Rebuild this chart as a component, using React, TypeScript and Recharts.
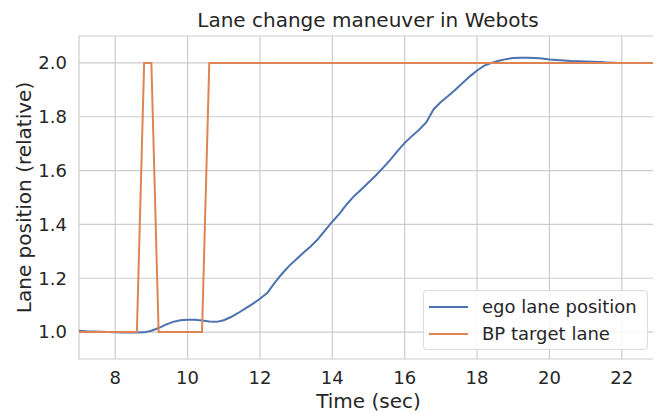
import { LineChart, Line, XAxis, YAxis, CartesianGrid, ReferenceArea, Customized } from 'recharts';

// ego lane position, sampled every 0.2 s from 7.0 to 23.0
const egoTime = [
  7.0, 7.2, 7.4, 7.6, 7.8, 8.0, 8.2, 8.4, 8.6, 8.8, 9.0, 9.2, 9.4, 9.6, 9.8, 10.0, 10.2, 10.4, 10.6, 10.8,
  11.0, 11.2, 11.4, 11.6, 11.8, 12.0, 12.2, 12.4, 12.6, 12.8, 13.0, 13.2, 13.4, 13.6, 13.8, 14.0, 14.2, 14.4, 14.6, 14.8,
  15.0, 15.2, 15.4, 15.6, 15.8, 16.0, 16.2, 16.4, 16.6, 16.8, 17.0, 17.2, 17.4, 17.6, 17.8, 18.0, 18.2, 18.4, 18.6, 18.8,
  19.0, 19.2, 19.4, 19.6, 19.8, 20.0, 20.2, 20.4, 20.6, 20.8, 21.0, 21.2, 21.4, 21.6, 21.8, 22.0, 22.2, 22.4, 22.6, 22.8, 23.0,
];
const egoLane = [
  1.005, 1.003, 1.002, 1.001, 1.0, 0.999, 0.998, 0.998, 0.998, 0.999, 1.005, 1.015, 1.028, 1.038, 1.044, 1.046, 1.046, 1.043, 1.039, 1.038,
  1.044, 1.056, 1.071, 1.088, 1.105, 1.124, 1.145, 1.182, 1.215, 1.245, 1.27, 1.295, 1.318, 1.345, 1.378, 1.41, 1.44, 1.475, 1.505, 1.53,
  1.556, 1.582, 1.61, 1.64, 1.672, 1.703, 1.728, 1.752, 1.78, 1.828, 1.855, 1.877, 1.9, 1.925, 1.95, 1.972, 1.99, 2.0, 2.008, 2.014,
  2.018, 2.019, 2.019, 2.018, 2.016, 2.013, 2.011, 2.009, 2.007, 2.006, 2.005, 2.004, 2.003, 2.002, 2.001, 2.0, 2.0, 2.0, 2.0, 2.0, 2.0,
];

// behaviour planner target lane
const targetTime = [7.0, 8.6, 8.8, 9.0, 9.2, 10.4, 10.6, 23.0];
const targetLane = [1, 1, 2, 2, 1, 1, 2, 2];

const xTicks = [8, 10, 12, 14, 16, 18, 20, 22];
const yTicks = [1.0, 1.2, 1.4, 1.6, 1.8, 2.0];

const egoData = egoTime.map((t, i) => ({ t, ego: egoLane[i] }));
const targetData = targetTime.map((t, i) => ({ t, target: targetLane[i] }));

const FONT = '"DejaVu Sans", sans-serif';
const TEXT = '#262626';
const BLUE = '#4c72b0';
const ORANGE = '#dd8452';

const Title = () => (
  <text x={360} y={19} textAnchor="middle" fontSize={20} fill={TEXT} fontFamily={FONT}>
    Lane change maneuver in Webots
  </text>
);

const YLabel = (props: any) => {
  const vb = props.viewBox || { x: 0, y: 28, width: 71, height: 323 };
  const cy = vb.y + vb.height / 2;
  return (
    <text
      transform={`translate(16, ${cy}) rotate(-90)`}
      textAnchor="middle"
      dominantBaseline="central"
      fontSize={20}
      fill={TEXT}
      fontFamily={FONT}
    >
      Lane position (relative)
    </text>
  );
};

const legendItems = [
  { name: 'ego lane position', color: BLUE },
  { name: 'BP target lane', color: ORANGE },
];

const LegendBox = () => (
  <div
    style={{
      position: 'absolute',
      left: 415,
      top: 282,
      width: 225,
      height: 60,
      border: '1px solid #dcdcdc',
      borderRadius: 4,
      background: 'rgba(255,255,255,0.85)',
      fontFamily: FONT,
      fontSize: 18,
      color: TEXT,
      boxSizing: 'border-box',
      padding: '2px 0 0 5px',
    }}
  >
    {legendItems.map((it) => (
      <div key={it.name} style={{ display: 'flex', alignItems: 'center', height: 27 }}>
        <span style={{ display: 'inline-block', width: 39, height: 2, background: it.color, marginRight: 14 }} />
        <span>{it.name}</span>
      </div>
    ))}
  </div>
);

export default function App() {
  return (
    <div style={{ position: 'relative', width: 653, height: 406 }}>
      <LineChart width={653} height={406} margin={{ top: 28, right: 3, left: 0, bottom: 0 }}>
        <CartesianGrid stroke="#cccccc" strokeWidth={1.2} horizontalValues={yTicks} verticalValues={xTicks} />
        <ReferenceArea x1={7} x2={23} y1={0.9} y2={2.1} fill="none" stroke="#cccccc" strokeWidth={1.2} />
        <XAxis
          type="number"
          dataKey="t"
          domain={[7, 23]}
          ticks={xTicks}
          allowDuplicatedCategory={false}
          axisLine={false}
          tickLine={false}
          tickSize={0}
          tickMargin={12}
          height={55}
          tick={{ fill: TEXT, fontSize: 18, fontFamily: FONT }}
          label={{ value: 'Time (sec)', position: 'insideBottom', offset: 6, fill: TEXT, fontSize: 20, fontFamily: FONT }}
        />
        <YAxis
          type="number"
          domain={[0.9, 2.1]}
          ticks={yTicks}
          tickFormatter={(v: number) => v.toFixed(1)}
          axisLine={false}
          tickLine={false}
          tickSize={0}
          tickMargin={12}
          width={71}
          tick={{ fill: TEXT, fontSize: 18, fontFamily: FONT }}
          label={{ content: YLabel }}
        />
        <Line data={egoData} dataKey="ego" type="linear" stroke={BLUE} strokeWidth={2} dot={false} isAnimationActive={false} />
        <Line data={targetData} dataKey="target" type="linear" stroke={ORANGE} strokeWidth={2} dot={false} isAnimationActive={false} />
        <Customized component={Title} />
      </LineChart>
      <LegendBox />
    </div>
  );
}
